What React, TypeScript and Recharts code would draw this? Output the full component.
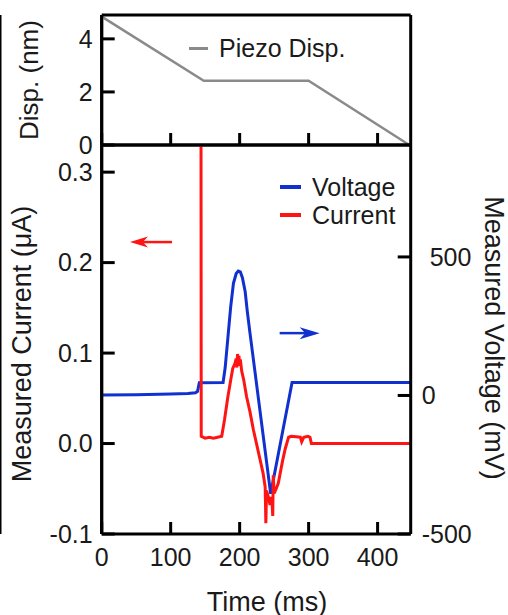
import React from 'react';
import { LineChart, Line, XAxis, YAxis, ReferenceLine } from 'recharts';

const FONT = '"Liberation Sans", Arial, Helvetica, sans-serif';
const TEXT = '#1a1a1a';

// ---- tick labels ----
const timeTicks = [0, 100, 200, 300, 400];
const dispTicks = [0, 2, 4];
const currentTicks = [-0.1, 0.0, 0.1, 0.2, 0.3];
const voltageTicks = [-500, 0, 500];

// ---- top panel: piezo displacement (nm) ----
const piezoTime = [0, 148, 300, 446];
const piezoDisp = [4.84, 2.42, 2.42, 0];

// ---- bottom panel: measured voltage (mV) ----
const voltageTime = [0, 50, 100, 125, 136, 139, 141.5, 176, 179, 183, 187, 191, 195, 198, 201, 204, 208, 211, 215, 245, 276, 448];
const voltageMv = [2, 3, 5, 7, 10, 15, 46, 47, 100, 210, 320, 405, 440, 449, 446, 425, 375, 305, 225, -355, 47, 47];

// ---- bottom panel: measured current (uA) ----
const currentTime = [144, 144.3, 150, 156, 162, 168, 174, 178, 183, 187, 190, 193, 195, 196, 197, 198, 199, 200, 201, 203, 206, 210, 215, 220, 225, 230, 234, 237, 238, 239, 242, 244, 246, 247, 248, 248.7, 250, 253, 256, 262, 266, 271, 275, 288, 290, 293, 299, 302, 304, 448];
const currentUa = [0.33, 0.008, 0.006, 0.007, 0.006, 0.007, 0.008, 0.026, 0.052, 0.07, 0.083, 0.088, 0.094, 0.084, 0.099, 0.09, 0.097, 0.086, 0.093, 0.08, 0.07, 0.052, 0.035, 0.015, -0.002, -0.019, -0.033, -0.048, -0.088, -0.052, -0.06, -0.068, -0.059, -0.066, -0.08, -0.035, -0.055, -0.05, -0.044, -0.02, -0.006, 0.007, 0.008, 0.007, 0.002, 0.007, 0.008, 0.007, 0.0, 0.0];

// ---- legends ----
const topLegendNames = ['Piezo Disp.'];
const bottomLegendNames = ['Voltage', 'Current'];

// ---- annotation arrows (data coordinates) ----
const redArrowTime = [102, 41];
const redArrowLevel = 0.2227;
const blueArrowTime = [258, 316];
const blueArrowLevel = 225;

const piezoData = piezoTime.map((t, i) => ({ t, v: piezoDisp[i] }));
const voltageData = voltageTime.map((t, i) => ({ t, v: voltageMv[i] }));
const currentData = currentTime.map((t, i) => ({ t, v: currentUa[i] }));

const X_DOMAIN: [number, number] = [0, 448];
const X_MIN = X_DOMAIN[0];
const DISP_DOMAIN: [number, number] = [0, 4.9];
const CUR_DOMAIN: [number, number] = [-0.1, 0.33];
const VOLT_DOMAIN: [number, number] = [-500, 904];
const GRAY = '#8a8a8a';
const BLUE = '#1030d0';
const RED = '#ff1414';

const axisLineStyle = { stroke: '#000', strokeWidth: 3 };
const tickLineStyle = { stroke: '#000', strokeWidth: 3 };
const tickText = { fontSize: 25, fill: TEXT, fontFamily: FONT };

const NoLabel = () => <g />;

const arrowShape = (color: string, head: number, half: number) => (props: any) => {
  const { x1, y1, x2, y2 } = props;
  const dir = Math.sign(x2 - x1) || 1;
  return (
    <g>
      <line x1={x1} y1={y1} x2={x2 - dir * head * 0.7} y2={y2} stroke={color} strokeWidth={2.5} />
      <polygon
        points={`${x2},${y2} ${x2 - dir * head},${y2 - half} ${x2 - dir * head * 0.72},${y2} ${x2 - dir * head},${y2 + half}`}
        fill={color}
      />
    </g>
  );
};

const LegendBox = (p: { left: number; top: number; names: string[]; colors: string[]; w: number; h: number }) => (
  <div style={{ position: 'absolute', left: p.left, top: p.top, fontFamily: FONT, fontSize: 25, color: TEXT }}>
    {p.names.map((n, i) => (
      <div key={n} style={{ display: 'flex', alignItems: 'center', height: 28, whiteSpace: 'nowrap' }}>
        <span style={{ display: 'inline-block', width: p.w, height: p.h, background: p.colors[i], marginRight: 11 }} />
        <span>{n}</span>
      </div>
    ))}
  </div>
);

const RightTick = (props: any) => {
  const { x, y, payload } = props;
  const shift = payload.value > 0 ? 8 : 0;
  return (
    <text x={x + shift} y={y} dy="0.36em" textAnchor="start" fontSize={25} fill={TEXT} fontFamily={FONT}>
      {payload.value}
    </text>
  );
};

// Overlay chart: its right axis sits exactly on the main plot's left edge, ticks pointing inward.
const LeftEdge = (p: { height: number; top: number; bottom: number; domain: [number, number]; ticks: number[]; data: any[] }) => (
  <LineChart width={508} height={p.height} data={p.data} margin={{ top: p.top, right: 405.3, bottom: 0, left: 0 }}>
    <XAxis dataKey="t" type="number" domain={X_DOMAIN} height={p.bottom} axisLine={false} tickLine={false} tick={<NoLabel />} />
    <YAxis orientation="right" type="number" domain={p.domain} ticks={p.ticks} width={1}
      tickSize={13} stroke="#000" axisLine={axisLineStyle} tickLine={tickLineStyle} tick={<NoLabel />} />
    <ReferenceLine x={X_MIN} stroke="#000" strokeWidth={3} ifOverflow="visible" />
    <Line dataKey="v" stroke="transparent" dot={false} activeDot={false} isAnimationActive={false} />
  </LineChart>
);

const titleBase: React.CSSProperties = {
  position: 'absolute',
  fontFamily: FONT,
  fontSize: 27,
  color: TEXT,
  whiteSpace: 'nowrap',
  lineHeight: 1,
};

export default function App() {
  return (
    <div style={{ position: 'absolute', left: 0, top: 0, width: 508, height: 615, background: '#fff', overflow: 'hidden' }}>
      {/* Text overlays first, so every chart paints above them */}
      <div style={{ ...titleBase, fontSize: 26, left: 28.5, top: 80, transform: 'translate(-50%, -50%) rotate(-90deg)' }}>Disp. (nm)</div>
      <div style={{ ...titleBase, left: 22, top: 344, transform: 'translate(-50%, -50%) rotate(-90deg)' }}>Measured Current (μA)</div>
      <div style={{ ...titleBase, left: 493, top: 338, transform: 'translate(-50%, -50%) rotate(90deg)' }}>Measured Voltage (mV)</div>
      <div style={{ ...titleBase, left: 267, top: 602, transform: 'translate(-50%, -50%)' }}>Time (ms)</div>
      <LegendBox left={189} top={34} names={topLegendNames} colors={[GRAY]} w={19} h={3} />
      <LegendBox left={280} top={173} names={bottomLegendNames} colors={[BLUE, RED]} w={21} h={4} />

      {/* Top panel */}
      <div style={{ position: 'absolute', left: 0, top: 0 }}>
        <LineChart width={508} height={160} margin={{ top: 14, right: 96.3, bottom: 14, left: 41.7 }}>
          <XAxis xAxisId="top" orientation="top" type="number" dataKey="t" domain={X_DOMAIN}
            ticks={timeTicks} height={1} tick={<NoLabel />} tickSize={-12} stroke="#000" axisLine={axisLineStyle} tickLine={tickLineStyle} />
          <XAxis xAxisId="bot" orientation="bottom" type="number" dataKey="t" domain={X_DOMAIN}
            ticks={timeTicks} height={1} tick={<NoLabel />} tickSize={-12} stroke="#000" axisLine={axisLineStyle} tickLine={tickLineStyle} />
          <YAxis yAxisId="l" orientation="left" type="number" domain={DISP_DOMAIN} ticks={dispTicks}
            width={60} tickSize={0} tickMargin={9} axisLine={false} tickLine={false} tick={tickText} />
          <YAxis yAxisId="r" orientation="right" type="number" domain={DISP_DOMAIN} ticks={dispTicks}
            width={1} tick={<NoLabel />} tickSize={-13} stroke="#000" axisLine={axisLineStyle} tickLine={tickLineStyle} />
          <ReferenceLine xAxisId="bot" yAxisId="l" x={X_MIN} stroke="#000" strokeWidth={3} ifOverflow="visible" />
          <Line data={piezoData} dataKey="v" name="Piezo Disp." xAxisId="bot" yAxisId="l" type="linear" dot={false}
            stroke={GRAY} strokeWidth={2.5} isAnimationActive={false} />
        </LineChart>
      </div>

      {/* Bottom panel */}
      <div style={{ position: 'absolute', left: 0, top: 140 }}>
        <LineChart width={508} height={475} margin={{ top: 4, right: 37.3, bottom: 0, left: 41.7 }}>
          <XAxis xAxisId="top" orientation="top" type="number" dataKey="t" domain={X_DOMAIN}
            ticks={timeTicks} height={1} tick={<NoLabel />} tickSize={-12} stroke="#000" axisLine={axisLineStyle} tickLine={tickLineStyle} />
          <XAxis xAxisId="bot" orientation="bottom" type="number" dataKey="t" domain={X_DOMAIN}
            ticks={timeTicks} height={81} tickSize={-12} tickMargin={26} stroke="#000" axisLine={axisLineStyle} tickLine={tickLineStyle} tick={tickText} />
          <YAxis yAxisId="cur" orientation="left" type="number" domain={CUR_DOMAIN} ticks={currentTicks}
            tickFormatter={(v: number) => v.toFixed(1)}
            width={60} tickSize={0} tickMargin={9} axisLine={false} tickLine={false} tick={tickText} />
          <YAxis yAxisId="volt" orientation="right" type="number" domain={VOLT_DOMAIN} ticks={voltageTicks}
            width={60} tickSize={-13} tickMargin={24} stroke="#000" axisLine={axisLineStyle} tickLine={tickLineStyle} tick={<RightTick />} />
          <ReferenceLine xAxisId="bot" yAxisId="cur" x={X_MIN} stroke="#000" strokeWidth={3} ifOverflow="visible" />
          <ReferenceLine xAxisId="bot" yAxisId="cur" ifOverflow="visible"
            segment={[{ x: redArrowTime[0], y: redArrowLevel }, { x: redArrowTime[1], y: redArrowLevel }]}
            shape={arrowShape(RED, 18, 5.5)} />
          <ReferenceLine xAxisId="bot" yAxisId="volt" ifOverflow="visible"
            segment={[{ x: blueArrowTime[0], y: blueArrowLevel }, { x: blueArrowTime[1], y: blueArrowLevel }]}
            shape={arrowShape(BLUE, 20, 6)} />
          <Line data={voltageData} dataKey="v" name="Voltage" xAxisId="bot" yAxisId="volt" type="linear" dot={false}
            stroke={BLUE} strokeWidth={3} isAnimationActive={false} />
          <Line data={currentData} dataKey="v" name="Current" xAxisId="bot" yAxisId="cur" type="linear" dot={false}
            stroke={RED} strokeWidth={3} isAnimationActive={false} />
        </LineChart>
      </div>

      {/* Left frame edges, painted last */}
      <div style={{ position: 'absolute', left: 0, top: 0 }}>
        <LeftEdge height={160} top={15} bottom={15} domain={DISP_DOMAIN} ticks={dispTicks} data={piezoData} />
      </div>
      <div style={{ position: 'absolute', left: 0, top: 140 }}>
        <LeftEdge height={475} top={5} bottom={81} domain={CUR_DOMAIN} ticks={currentTicks} data={currentData} />
      </div>
    </div>
  );
}
